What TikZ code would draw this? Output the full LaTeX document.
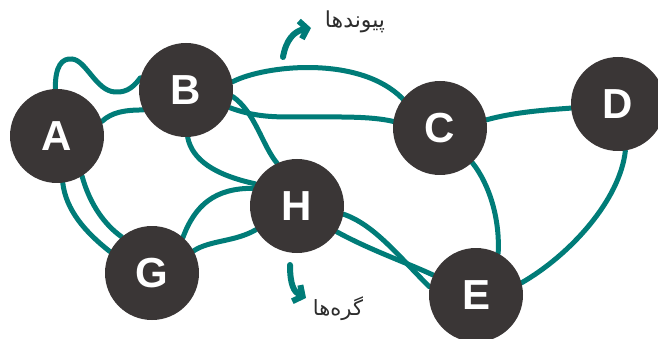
\documentclass[tikz,border=0pt]{standalone}
\usepackage{fontspec}
\setmainfont{Liberation Sans}
\newfontfamily\farsi[Script=Arabic]{DejaVu Sans}
\TeXXeTstate=1
\usetikzlibrary{arrows.meta,backgrounds}
\definecolor{edgeteal}{RGB}{0,124,120}
\definecolor{nodegray}{RGB}{58,54,54}
\definecolor{labelgray}{RGB}{45,45,45}

\begin{document}
\begin{tikzpicture}[x=1pt,y=-1pt,
  vertex/.style={circle,fill=nodegray,minimum size=94pt,inner sep=0pt,
    text=white,font=\fontsize{42}{42}\selectfont\bfseries},
  link/.style={edgeteal,line width=5pt,line cap=round},
  pointer/.style={edgeteal,line width=6pt,line cap=round,
    -{Straight Barb[length=7pt,width=18pt]}},
  caption/.style={text=labelgray,inner sep=0pt,font=\farsi\fontsize{22}{22}\selectfont}]
\useasboundingbox (0,0) rectangle (658,339);

% vertices
\node[vertex] (A) at (57,136) {A};
\node[vertex] (B) at (186,90) {B};
\node[vertex] (C) at (440,128) {C};
\node[vertex] (D) at (618,104) {D};
\node[vertex] (H) at (297,206) {H};
\node[vertex] (G) at (152,273) {G};
\node[vertex] (E) at (476,295) {E};

% captions
\node[caption] (links) at (355,22) {\beginR پیوندها\endR};
\node[caption,font=\farsi\fontsize{21}{21}\selectfont] (verts) at (338,309) {\beginR گره^^^^200cها\endR};
\coordinate (linksFrom) at (283,57);
\coordinate (linksTo) at (311,28);
\coordinate (vertsFrom) at (290,265);
\coordinate (vertsTo) at (306,298);

\begin{scope}[on background layer]
  % A -- B
  \draw[link] (A.92) .. controls (55,66) and (62,58) .. (72,59)
              .. controls (86,60) and (96,91) .. (115,92)
              .. controls (128,93) and (135,85) .. (B.165);
  \draw[link] (A.18) .. controls (112,112) and (125,110) .. (B.205);
  % A -- G (twice)
  \draw[link] (A.277) .. controls (66,210) and (85,232) .. (G.153);
  \draw[link] (A.302) .. controls (90,205) and (105,225) .. (G.130);
  % B -- C
  \draw[link] (B.10) .. controls (265,65) and (360,55) .. (C.142);
  \draw[link] (B.-22) .. controls (250,115) and (265,117) .. (290,117)
              .. controls (340,117) and (370,116) .. (C.172);
  % B -- H
  \draw[link] (B.-8) .. controls (255,112) and (262,145) .. (H.115);
  \draw[link] (B.-88) .. controls (192,160) and (215,175) .. (H.152);
  % G -- H
  \draw[link] (G.49) .. controls (195,205) and (215,188) .. (H.158);
  \draw[link] (G.28) .. controls (210,240) and (235,242) .. (H.210);
  % C -- D, C -- E, D -- E
  \draw[link] (C.10) .. controls (515,112) and (545,110) .. (D.185);
  \draw[link] (C.-47) .. controls (490,185) and (500,220) .. (E.62);
  \draw[link] (D.-81) .. controls (620,200) and (570,255) .. (E.15);
  % H -- E (twice, crossing)
  \draw[link] (H.-10) .. controls (375,225) and (400,258) .. (E.170);
  \draw[link] (H.-33) .. controls (370,250) and (405,262) .. (E.155);
\end{scope}

% pointers to the captions
\draw[pointer] (linksFrom) .. controls (286,40) and (294,31) .. (linksTo);
\draw[pointer] (vertsFrom) .. controls (290,285) and (294,292) .. (vertsTo);
\end{tikzpicture}
\end{document}
